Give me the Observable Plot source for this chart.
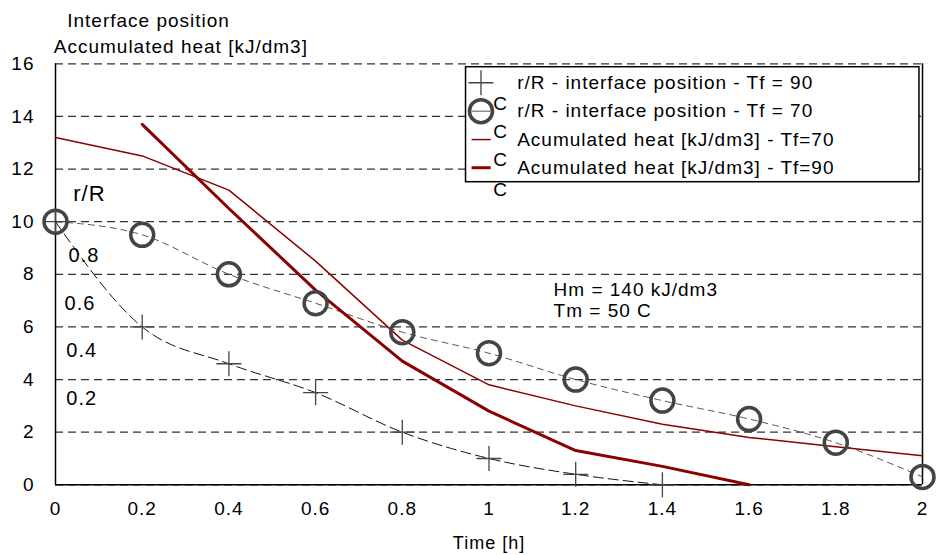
<!DOCTYPE html>
<html><head><meta charset="utf-8">
<script src="https://cdn.jsdelivr.net/npm/d3@7"></script>
<script src="https://cdn.jsdelivr.net/npm/@observablehq/plot@0.6"></script>
<style>
body{margin:0;background:#fff}
#chart svg text{letter-spacing:1px}
</style>
</head><body><div id="chart"></div>
<script>
// ---- data ----
const times = [0, 0.2, 0.4, 0.6, 0.8, 1.0, 1.2, 1.4, 1.6, 1.8, 2.0];
const posTf90Times = [0, 0.2, 0.4, 0.6, 0.8, 1.0, 1.2, 1.4];
const posTf90 = [10, 6.0, 4.6, 3.5, 2.0, 1.0, 0.4, 0.0];
const posTf70 = [10, 9.5, 8.0, 6.9, 5.8, 5.0, 4.0, 3.2, 2.5, 1.6, 0.3];
const heatTf70 = [13.2, 12.5, 11.2, 8.5, 5.5, 3.8, 3.0, 2.3, 1.8, 1.45, 1.1];
const heatTf90Times = [0.2, 0.4, 0.6, 0.8, 1.0, 1.2, 1.4, 1.6];
const heatTf90 = [13.7, 10.5, 7.4, 4.7, 2.8, 1.3, 0.7, 0.0];
const xTicks = [0, 0.2, 0.4, 0.6, 0.8, 1, 1.2, 1.4, 1.6, 1.8, 2];
const yTicks = [0, 2, 4, 6, 8, 10, 12, 14, 16];
const legendLabels = [
  "r/R - interface position - Tf = 90",
  "r/R - interface position - Tf = 70",
  "Acumulated heat [kJ/dm3] - Tf=70",
  "Acumulated heat [kJ/dm3] - Tf=90"
];
const strayC = ["C", "C", "C", "C"];
const rLabels = ["r/R", "0.8", "0.6", "0.4", "0.2"];
const notes = ["Hm = 140 kJ/dm3", "Tm = 50 C"];
const titleLines = ["Interface position", "Accumulated heat [kJ/dm3]"];
const xLabel = "Time [h]";

// ---- tables ----
const sTf90 = posTf90Times.map((t, i) => ({t, v: posTf90[i]}));
const sTf70 = times.map((t, i) => ({t, v: posTf70[i]}));
const hTf70 = times.map((t, i) => ({t, v: heatTf70[i]}));
const hTf90 = heatTf90Times.map((t, i) => ({t, v: heatTf90[i]}));

const plusSymbol = {draw(ctx) { const r = 12.5; ctx.moveTo(-r, 0); ctx.lineTo(r, 0); ctx.moveTo(0, -r); ctx.lineTo(0, r); }};
const red = "#8b0000";
const legendRowsY = [15.28, 14.20, 13.12, 12.05];

const chart = Plot.plot({
  width: 936,
  height: 555,
  marginLeft: 55,
  marginRight: 14,
  marginTop: 63.3,
  marginBottom: 70.7,
  style: {fontFamily: "'Liberation Sans', Arial, sans-serif", fontSize: "19px", color: "black", background: "white", overflow: "visible"},
  x: {domain: [0, 2], ticks: xTicks, tickSize: 0, tickPadding: 17, tickFormat: d => String(+d.toFixed(1)), label: null},
  y: {domain: [0, 16], ticks: yTicks, tickSize: 0, tickPadding: 21, label: null},
  marks: [
    Plot.ruleY(yTicks, {stroke: "#333", strokeDasharray: "8,5", strokeWidth: 1.2}),
    Plot.ruleX([0, 2], {stroke: "black", strokeWidth: 1.5}),
    Plot.ruleY([0], {stroke: "black", strokeWidth: 1.5}),
    // interface position lines
    Plot.line(sTf70, {x: "t", y: "v", curve: "monotone-x", stroke: "#555", strokeWidth: 1, strokeDasharray: "6,5"}),
    Plot.line(sTf90, {x: "t", y: "v", curve: "monotone-x", stroke: "#111", strokeWidth: 1, strokeDasharray: "10,5"}),
    // heat lines
    Plot.line(hTf70, {x: "t", y: "v", stroke: red, strokeWidth: 1.5}),
    Plot.line(hTf90, {x: "t", y: "v", stroke: red, strokeWidth: 3}),
    // markers
    Plot.dot(sTf90, {x: "t", y: "v", symbol: plusSymbol, fill: "none", stroke: "#444", strokeWidth: 1.3}),
    Plot.dot(sTf70, {x: "t", y: "v", r: 11.5, fill: "none", stroke: "#444", strokeWidth: 3.5}),
    // annotations
    Plot.text([rLabels[0]], {x: [0.041], y: [11.06], textAnchor: "start", fontSize: 22}),
    Plot.text(rLabels.slice(1), {x: [0.030, 0.021, 0.025, 0.025], y: [8.72, 6.90, 5.10, 3.27], textAnchor: "start", fontSize: 20}),
    Plot.text(notes, {x: [1.149, 1.149], y: [7.42, 6.62], textAnchor: "start"}),
    Plot.text(titleLines, {x: [0.027, -0.004], y: [17.62, 16.66], textAnchor: "start"}),
    Plot.text([xLabel], {x: [1.0], y: [-2.22], fontSize: 18, textAnchor: "middle", style: "letter-spacing:1.6px"}),
    // legend
    Plot.rect([0], {x1: 0.947, x2: 1.993, y1: 11.50, y2: 15.87, fill: "white", stroke: "black", strokeWidth: 1.5}),
    Plot.dot([0], {x: 0.9815, y: legendRowsY[0], symbol: plusSymbol, fill: "none", stroke: "#444", strokeWidth: 1.3}),
    Plot.ruleY([legendRowsY[1]], {x1: 0.961, x2: 1.005, stroke: "#555", strokeWidth: 1}),
    Plot.dot([0], {x: 0.9815, y: legendRowsY[1], r: 11.5, fill: "none", stroke: "#444", strokeWidth: 3.5}),
    Plot.ruleY([legendRowsY[2]], {x1: 0.961, x2: 1.005, stroke: red, strokeWidth: 1.5}),
    Plot.ruleY([legendRowsY[3]], {x1: 0.961, x2: 1.005, stroke: red, strokeWidth: 3}),
    Plot.text(legendLabels, {x: [1.065, 1.065, 1.065, 1.065], y: legendRowsY, textAnchor: "start"}),
    Plot.text(strayC, {x: [1.0265, 1.0265, 1.0265, 1.0265], y: [14.48, 13.40, 12.33, 11.19]})
  ]
});
document.getElementById("chart").appendChild(chart);
</script>
</body></html>
